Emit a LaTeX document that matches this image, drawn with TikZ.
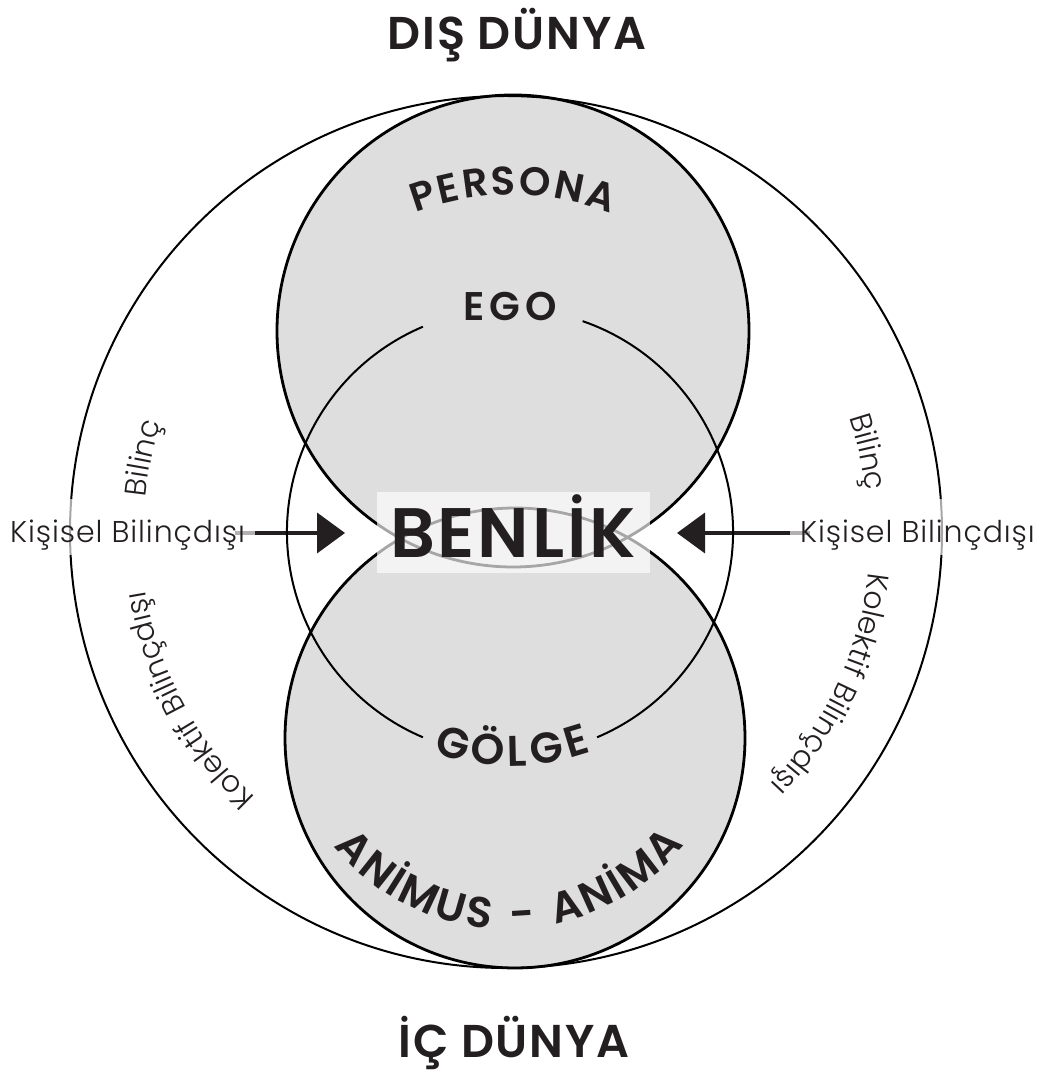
\documentclass[tikz,border=0pt]{standalone}
\usepackage{fontspec}
\setmainfont{Poppins}
\IfFontExistsTF{Poppins Light}{\newfontfamily\lightfont{Poppins Light}[LetterSpace=3]}{\newfontfamily\lightfont{Poppins}[LetterSpace=3]}
\IfFontExistsTF{Poppins SemiBold}{%
  \newfontfamily\headfont{Poppins SemiBold}[LetterSpace=4]%
  \newfontfamily\widefont{Poppins SemiBold}[LetterSpace=12]}{%
  \newfontfamily\headfont{Poppins}[UprightFont={* Bold},LetterSpace=4]%
  \newfontfamily\widefont{Poppins}[UprightFont={* Bold},LetterSpace=12]}
\usetikzlibrary{calc,arrows.meta,decorations.text,backgrounds}
\definecolor{lobegray}{HTML}{DEDEDE}
\definecolor{ink}{HTML}{231F20}
\tikzset{
  veil/.style={fill=white,fill opacity=0.65,text opacity=1},
  title/.style={text=ink,font=\headfont\fontsize{46}{46}\selectfont},
  side label/.style={veil,text=ink,font=\lightfont\fontsize{30}{30}\selectfont,
    inner xsep=10pt,inner ysep=6pt,text height=38pt,text depth=6pt},
  push/.style={line width=4pt,draw=ink,-{Triangle[length=28pt,width=40pt]}},
  ring text/.style={decorate,decoration={text along path,text align=center,text color=ink,
    text={|\lightfont\fontsize{30}{30}\selectfont|#1}}},
  arc text/.style n args={3}{decorate,decoration={text along path,text align=center,text color=ink,
    text={|\widefont\fontsize{#1}{#1}\selectfont\kern#2pt|#3}}}
}

\begin{document}
\begin{tikzpicture}[x=1pt,y=1pt]
  \useasboundingbox (0,0) rectangle (1045,1073);
  \coordinate (O) at (506,541);
  \coordinate (M) at (510,541);
  \coordinate (T) at (513,742);
  \coordinate (U) at (515,335);
  \coordinate (P) at (512,604);
  \coordinate (Q) at (508,370);
  \fill[lobegray] (T) circle (236);
  \fill[lobegray] (U) circle (230);
  \draw[line width=2pt] (O) circle (436);
  \draw[line width=2pt] (M) ++(113:223) arc[start angle=113,end angle=247,radius=223];
  \draw[line width=2pt] (M) ++(293:223) arc[start angle=293,end angle=431,radius=223];
  \draw[line width=2.8pt] (T) circle (236);
  \draw[line width=2.8pt] (U) circle (230);
  \node[title,anchor=base] (dis) at (517,1023) {DIŞ DÜNYA};
  \node[title,anchor=base] (ic) at (514,16) {İÇ DÜNYA};
  \node[veil,text=ink,font=\headfont\fontsize{70}{70}\selectfont,anchor=base,inner sep=0pt,
    minimum width=273pt,text height=66pt,text depth=15pt] (benlik) at (513,515) {BENLİK};
  \node[text=ink,font=\widefont\fontsize{40}{40}\selectfont] (ego) at (510,767) {EGO};
  \node[side label,anchor=base west] (kl) at (0,530) {Kişisel Bilinçdışı};
  \node[side label,anchor=base east] (kr) at (1045,530) {Kişisel Bilinçdışı};
  \coordinate (ltip) at (345,540);
  \coordinate (rtip) at (677,540);
  \begin{scope}[on background layer]
    \draw[push] ($(kl.east |- ltip)+(-20,0)$) -- (ltip);
    \draw[push] ($(kr.west |- rtip)+(20,0)$) -- (rtip);
  \end{scope}
  \path[arc text={40}{2.4}{PERSONA}] (P) ++(150:274) arc[start angle=150,end angle=30,radius=274];
  \path[arc text={43}{4.5}{GÖLGE}] (M) ++(225:234) arc[start angle=225,end angle=315,radius=234];
  \path[arc text={43}{2.5}{ANİMUS - ANİMA}] (Q) ++(190:226) arc[start angle=190,end angle=350,radius=226];
  \path[ring text=Bilinç] (O) ++(183:362) arc[start angle=183,end angle=154,radius=362];
  \path[ring text=Bilinç] (O) ++(26.5:362) arc[start angle=26.5,end angle=-1.5,radius=362];
  \path[ring text=Kolektif Bilinçdışı] (O) ++(242:365) arc[start angle=242,end angle=174,radius=365];
  \path[ring text=Kolektif Bilinçdışı] (O) ++(9:365) arc[start angle=9,end angle=-59,radius=365];
\end{tikzpicture}
\end{document}
